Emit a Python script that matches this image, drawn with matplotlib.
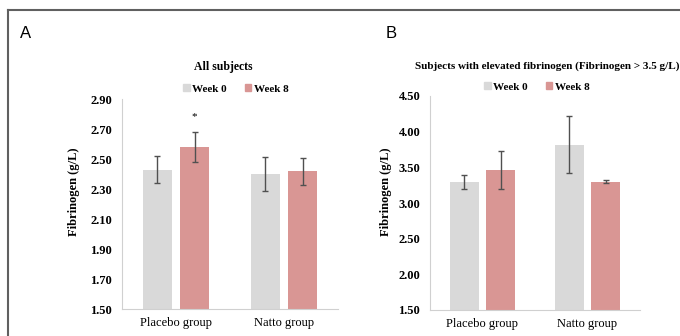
import numpy as np
import matplotlib
matplotlib.use('Agg')
import matplotlib.pyplot as plt
from matplotlib.lines import Line2D
from matplotlib.patches import Patch

groups = ['Placebo group', 'Natto group']
series = ['Week 0', 'Week 8']

# panel A - all subjects
a_week0 = [2.43, 2.40]
a_week8 = [2.58, 2.42]
a_err0 = [0.09, 0.115]
a_err8 = [0.10, 0.09]

# panel B - elevated fibrinogen subjects
b_week0 = [3.29, 3.82]
b_week8 = [3.46, 3.30]
b_err0 = [0.10, 0.40]
b_err8 = [0.265, 0.025]

grey = '#d9d9d9'
red = '#d99694'
W, H = 680, 336

plt.rcParams['font.family'] = 'Liberation Serif'

fig = plt.figure(figsize=(W / 100, H / 100), dpi=100)


def px_axes(x0, y_top, x1, y_bot):
    return fig.add_axes([x0 / W, 1 - y_bot / H, (x1 - x0) / W, (y_bot - y_top) / H])


def draw(ax, w0, w8, e0, e8, ylim, ticks, lab_xy):
    x = np.arange(len(groups))
    bw = 0.27
    off = 0.172
    ax.bar(x - off, w0, bw, color=grey, zorder=2)
    ax.bar(x + off, w8, bw, color=red, zorder=2)
    ax.errorbar(x - off, w0, yerr=e0, fmt='none', ecolor='#505050', elinewidth=1, capsize=2.5, capthick=1, zorder=3)
    ax.errorbar(x + off, w8, yerr=e8, fmt='none', ecolor='#505050', elinewidth=1, capsize=2.5, capthick=1, zorder=3)
    ax.set_xlim(-0.5, 1.5)
    ax.set_ylim(*ylim)
    ax.set_yticks(ticks)
    ax.set_yticklabels(['%.2f' % t for t in ticks], fontsize=9, fontweight='bold')
    ax.set_xticks(x)
    ax.set_xticklabels(groups, fontsize=9)
    ax.tick_params(axis='x', length=0, pad=6)
    ax.tick_params(axis='y', length=0, pad=7)
    for s in ['top', 'right']:
        ax.spines[s].set_visible(False)
    for s in ['left', 'bottom']:
        ax.spines[s].set_color('#d0d0d0')
        ax.spines[s].set_linewidth(0.8)
    ax.set_ylabel('Fibrinogen (g/L)', fontsize=9, fontweight='bold')
    ax.yaxis.set_label_coords(*lab_xy)
    return x, off


# panel A
axA = px_axes(122, 99, 338, 309)
xa, off = draw(axA, a_week0, a_week8, a_err0, a_err8, (1.5, 2.9), np.arange(1.5, 2.91, 0.2), (-0.194, 0.557))
axA.text(xa[0] + off, 2.78, '*', ha='center', va='center', fontsize=8)
fig.text(223 / W, 1 - 67 / H, 'All subjects', ha='center', va='center', fontsize=8.5, fontweight='bold')
fig.text(20 / W, 1 - 33 / H, 'A', family='Liberation Sans', ha='left', va='center', fontsize=12)

# panel B
axB = px_axes(430, 96, 640, 310)
draw(axB, b_week0, b_week8, b_err0, b_err8, (1.5, 4.5), np.arange(1.5, 4.51, 0.5), (-0.181, 0.551))
fig.text(547 / W, 1 - 66 / H, 'Subjects with elevated fibrinogen (Fibrinogen > 3.5 g/L)', ha='center', va='center', fontsize=8, fontweight='bold')
fig.text(386 / W, 1 - 33 / H, 'B', family='Liberation Sans', ha='left', va='center', fontsize=12)

# legends
handles = [Patch(color=grey), Patch(color=red)]
for cx, cy in [(236, 89), (537, 87)]:
    fig.legend(handles, series, loc='center', bbox_to_anchor=(cx / W, 1 - cy / H), ncol=2, frameon=False,
               prop={'size': 8, 'weight': 'bold'}, handlelength=0.6, handleheight=0.6, handletextpad=0.25, columnspacing=1.6)

# outer frame
fig.add_artist(Line2D([8 / W, 8 / W], [0, 1 - 10 / H], color='#606060', lw=1.5))
fig.add_artist(Line2D([8 / W, 1], [1 - 10 / H, 1 - 10 / H], color='#606060', lw=1.5))

fig.savefig('out.png', dpi=100)
